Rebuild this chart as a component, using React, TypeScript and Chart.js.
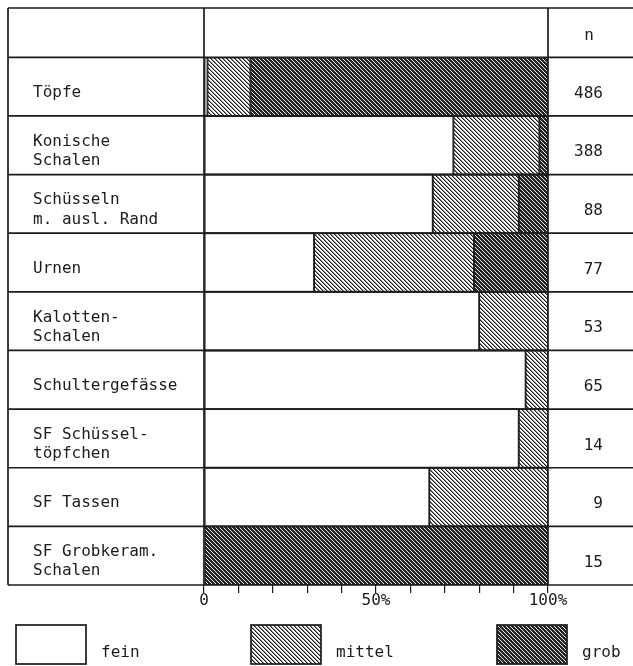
import React, { useEffect, useRef } from 'react';
import { Chart, registerables } from 'chart.js';

Chart.register(...registerables);

// ---- data ----
const categories: (string | string[])[] = [
  'Töpfe',
  ['Konische', 'Schalen'],
  ['Schüsseln', 'm. ausl. Rand'],
  'Urnen',
  ['Kalotten-', 'Schalen'],
  'Schultergefässe',
  ['SF Schüssel-', 'töpfchen'],
  'SF Tassen',
  ['SF Grobkeram.', 'Schalen'],
];
const nValues = ['486', '388', '88', '77', '53', '65', '14', '9', '15'];
const feinPct = [1, 72.5, 66.5, 32, 80, 93.5, 91.5, 65.5, 0];
const mittelPct = [12.5, 25, 25, 46.5, 20, 6.5, 8.5, 34.5, 0];
const grobPct = [86.5, 2.5, 8.5, 21.5, 0, 0, 0, 0, 100];
const seriesLabels = ['fein', 'mittel', 'grob'];
const xTickLabels: Record<number, string> = { 0: '0', 50: '50%', 100: '100%' };
const headerLabel = 'n';

// ---- styles ----
const INK = '#1c1c1c';
const FONT = 'DejaVu Sans Mono';

function makePattern(kind: 'mittel' | 'grob'): CanvasPattern | string {
  const t = document.createElement('canvas');
  t.width = 4;
  t.height = 4;
  const c = t.getContext('2d');
  if (!c) return kind === 'mittel' ? '#bbb' : '#444';
  if (kind === 'mittel') {
    c.fillStyle = '#ffffff';
    c.fillRect(0, 0, 4, 4);
    for (let i = 0; i < 4; i++) {
      c.fillStyle = '#1a1a1a';
      c.fillRect(i, i, 1, 1);
      c.fillStyle = '#8a8a8a';
      c.fillRect((i + 1) % 4, i, 1, 1);
    }
  } else {
    c.fillStyle = '#262626';
    c.fillRect(0, 0, 4, 4);
    for (let i = 0; i < 4; i++) {
      c.fillStyle = '#e6e6e6';
      c.fillRect(i, i, 1, 1);
    }
  }
  const p = c.createPattern(t, 'repeat');
  return p || '#888';
}

export default function App() {
  const ref = useRef<HTMLCanvasElement>(null);

  useEffect(() => {
    const canvas = ref.current;
    if (!canvas) return;
    const mittelPat = makePattern('mittel');
    const grobPat = makePattern('grob');
    const fills: (string | CanvasPattern)[] = ['#ffffff', mittelPat, grobPat];

    const tablePlugin = {
      id: 'tableGrid',
      afterDatasetsDraw(chart: any) {
        const { ctx, chartArea } = chart;
        const y = chart.scales.y;
        const n = categories.length;
        const left = 8;
        const top = 8;
        const right = chart.width;
        const bottom = y.getPixelForValue(n - 0.5);
        ctx.save();
        ctx.strokeStyle = INK;
        ctx.lineWidth = 1.7;
        ctx.beginPath();
        ctx.moveTo(left, top);
        ctx.lineTo(right, top);
        for (let i = 0; i <= n; i++) {
          const py = y.getPixelForValue(i - 0.5);
          ctx.moveTo(left, py);
          ctx.lineTo(right, py);
        }
        for (const px of [left, chartArea.left, chartArea.right]) {
          ctx.moveTo(px, top);
          ctx.lineTo(px, bottom);
        }
        ctx.stroke();
        // header label
        const y2 = chart.scales.y2;
        ctx.fillStyle = INK;
        ctx.font = `16px "${FONT}"`;
        ctx.textAlign = 'center';
        ctx.textBaseline = 'alphabetic';
        ctx.fillText(headerLabel, y2.right - 14, 40);
        ctx.restore();
      },
      afterDraw(chart: any) {
        const { ctx } = chart;
        const boxX = [16, 251, 497];
        const boxY = 625;
        const bw = 70;
        const bh = 39;
        ctx.save();
        chart.data.datasets.forEach((ds: any, i: number) => {
          ctx.fillStyle = ds.backgroundColor;
          ctx.fillRect(boxX[i], boxY, bw, bh);
          ctx.strokeStyle = INK;
          ctx.lineWidth = 1.7;
          ctx.strokeRect(boxX[i], boxY, bw, bh);
          ctx.fillStyle = INK;
          ctx.font = `16px "${FONT}"`;
          ctx.textAlign = 'left';
          ctx.textBaseline = 'alphabetic';
          ctx.fillText(ds.label, boxX[i] + bw + 15, 657);
        });
        ctx.restore();
      },
    };

    const seriesData = [feinPct, mittelPct, grobPct];

    const chart = new Chart(canvas, {
      type: 'bar',
      data: {
        labels: categories,
        datasets: seriesLabels.map((label, i) => ({
          label,
          data: seriesData[i],
          backgroundColor: fills[i],
          borderColor: INK,
          borderWidth: 1.3,
          borderSkipped: false,
          barPercentage: 1,
          categoryPercentage: 1,
        })),
      },
      options: {
        indexAxis: 'y',
        responsive: false,
        animation: false,
        devicePixelRatio: 1,
        events: [],
        layout: { padding: { top: 57.3, left: 33, right: 30, bottom: 0 } },
        plugins: {
          legend: { display: false },
          tooltip: { enabled: false },
          title: { display: false },
        },
        scales: {
          x: {
            type: 'linear',
            stacked: true,
            min: 0,
            max: 100,
            grid: {
              display: true,
              drawOnChartArea: false,
              drawTicks: true,
              tickLength: 8,
              color: INK,
              lineWidth: 1.2,
            },
            border: { display: false },
            ticks: {
              stepSize: 10,
              autoSkip: false,
              maxRotation: 0,
              padding: 0,
              color: INK,
              font: { family: FONT, size: 16, lineHeight: 1 },
              callback: (v: any) => xTickLabels[Number(v)] ?? '',
            },
            afterFit: (s: any) => {
              s.height = 81;
            },
          },
          y: {
            type: 'category',
            stacked: true,
            position: 'left',
            grid: { display: false },
            border: { display: false },
            ticks: {
              crossAlign: 'far',
              padding: 0,
              autoSkip: false,
              labelOffset: 6,
              color: INK,
              font: { family: FONT, size: 16, lineHeight: 1.2 },
            },
            afterFit: (s: any) => {
              s.width = 171;
            },
          },
          y2: {
            type: 'category',
            labels: nValues,
            position: 'right',
            offset: true,
            grid: { display: false, offset: true },
            border: { display: false },
            ticks: {
              crossAlign: 'far',
              padding: 0,
              autoSkip: false,
              labelOffset: 7,
              color: INK,
              font: { family: FONT, size: 16, lineHeight: 1.2 },
            },
            afterFit: (s: any) => {
              s.width = 55;
            },
          },
        },
      } as any,
      plugins: [tablePlugin],
    });

    return () => chart.destroy();
  }, []);

  return (
    <div style={{ position: 'fixed', left: 0, top: 0, width: 633, height: 666, background: '#fff' }}>
      <canvas ref={ref} width={633} height={666} style={{ width: 633, height: 666, display: 'block' }} />
    </div>
  );
}
